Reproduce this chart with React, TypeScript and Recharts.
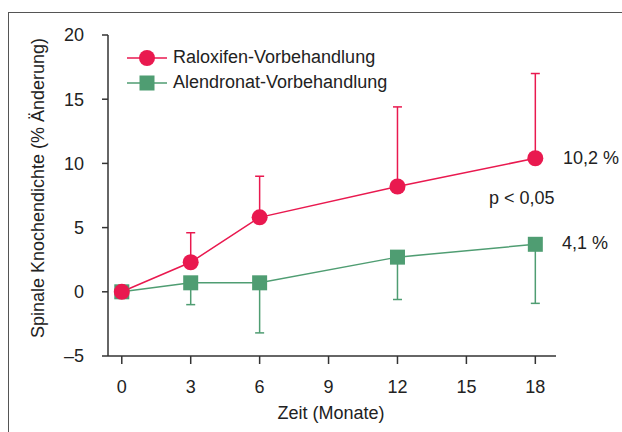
import { ComposedChart, Line, XAxis, YAxis, ErrorBar, Label } from "recharts"

const months = [0, 3, 6, 12, 18]
const raloxifen = [0, 2.3, 5.8, 8.2, 10.4]
const raloxifenErrUp = [0, 2.3, 3.2, 6.2, 6.6]
const alendronat = [0, 0.7, 0.7, 2.7, 3.7]
const alendronatErrDown = [0, 1.7, 3.9, 3.3, 4.6]
const xTicks = [0, 3, 6, 9, 12, 15, 18]
const yTicks = [-5, 0, 5, 10, 15, 20]

const RED = "#e9194f"
const GREEN = "#4f9d72"
const AXIS = "#333"
const FONT = "'Liberation Sans', Arial, sans-serif"
const FS = 18

const data = months.map((m, i) => ({
  month: m,
  ral: raloxifen[i],
  ralErr: [0, raloxifenErrUp[i]],
  ale: alendronat[i],
  aleErr: [alendronatErrDown[i], 0],
}))

const SquareDot = (props: any) => {
  const { cx, cy } = props
  return <rect x={cx - 7.5} y={cy - 7.5} width={15} height={15} fill={GREEN} />
}

const LegendBox = () => (
  <div style={{ position: "absolute", left: 127, top: 45, fontFamily: FONT, fontSize: FS, color: "#222" }}>
    {[
      { name: "Raloxifen-Vorbehandlung", color: RED, shape: "circle" },
      { name: "Alendronat-Vorbehandlung", color: GREEN, shape: "square" },
    ].map((it) => (
      <div key={it.name} style={{ display: "flex", alignItems: "center", height: 25 }}>
        <svg width={40} height={18} style={{ marginRight: 6 }}>
          <line x1={0} y1={9} x2={40} y2={9} stroke={it.color} strokeWidth={1.5} />
          {it.shape === "circle" ? (
            <circle cx={20} cy={9} r={8} fill={it.color} />
          ) : (
            <rect x={12.5} y={1.5} width={15} height={15} fill={it.color} />
          )}
        </svg>
        <span>{it.name}</span>
      </div>
    ))}
  </div>
)

const note = (text: string, left: number, top: number) => (
  <div
    style={{
      position: "absolute",
      left,
      top,
      fontFamily: FONT,
      fontSize: FS,
      color: "#222",
      lineHeight: "20px",
      whiteSpace: "nowrap",
    }}
  >
    {text}
  </div>
)

export default function App() {
  return (
    <div style={{ position: "absolute", left: 0, top: 0, width: 622, height: 432, background: "#fff", overflow: "hidden" }}>
      <div
        style={{
          position: "absolute",
          left: 8,
          top: 12,
          width: 640,
          height: 440,
          border: "1.5px solid #555",
          boxSizing: "border-box",
        }}
      />
      <ComposedChart
        width={622}
        height={432}
        data={data}
        margin={{ top: 35, right: 66, left: 28, bottom: 16 }}
        style={{ position: "absolute", left: 0, top: 0 }}
      >
        <XAxis
          type="number"
          dataKey="month"
          domain={[-0.6, 18.9]}
          ticks={xTicks}
          allowDataOverflow
          height={60}
          tickSize={8}
          tickMargin={16}
          axisLine={{ stroke: AXIS, strokeWidth: 1.5 }}
          tickLine={{ stroke: AXIS, strokeWidth: 1.5 }}
          tick={{ fill: "#222", fontSize: FS, fontFamily: FONT }}
        >
          <Label
            content={() => (
              <text x={331} y={413} textAnchor="middle" dominantBaseline="central" fill="#222" fontSize={FS} fontFamily={FONT}>
                Zeit (Monate)
              </text>
            )}
          />
        </XAxis>
        <YAxis
          type="number"
          domain={[-5, 20]}
          ticks={yTicks}
          width={80}
          tickSize={6}
          tickMargin={18}
          tickFormatter={(v: number) => (v < 0 ? "\u2013" + Math.abs(v) : String(v))}
          axisLine={{ stroke: AXIS, strokeWidth: 1.5 }}
          tickLine={{ stroke: AXIS, strokeWidth: 1.5 }}
          tick={{ fill: "#222", fontSize: FS, fontFamily: FONT }}
        >
          <Label
            content={() => (
              <text
                x={38}
                y={188}
                transform="rotate(-90 38 188)"
                textAnchor="middle"
                dominantBaseline="central"
                fill="#222"
                fontSize={FS}
                fontFamily={FONT}
              >
                Spinale Knochendichte (% Änderung)
              </text>
            )}
          />
        </YAxis>
        <Line
          dataKey="ale"
          name="Alendronat-Vorbehandlung"
          stroke={GREEN}
          strokeWidth={1.5}
          dot={<SquareDot />}
          activeDot={false}
          isAnimationActive={false}
        >
          <ErrorBar dataKey="aleErr" direction="y" width={4.5} stroke={GREEN} strokeWidth={1.5} />
        </Line>
        <Line
          dataKey="ral"
          name="Raloxifen-Vorbehandlung"
          stroke={RED}
          strokeWidth={1.5}
          dot={{ r: 8, fill: RED, stroke: "none" }}
          activeDot={false}
          isAnimationActive={false}
        >
          <ErrorBar dataKey="ralErr" direction="y" width={4.5} stroke={RED} strokeWidth={1.5} />
        </Line>
      </ComposedChart>
      <LegendBox />
      {note("10,2 %", 563, 148)}
      {note("p < 0,05", 489, 188)}
      {note("4,1 %", 562, 233)}
    </div>
  )
}
